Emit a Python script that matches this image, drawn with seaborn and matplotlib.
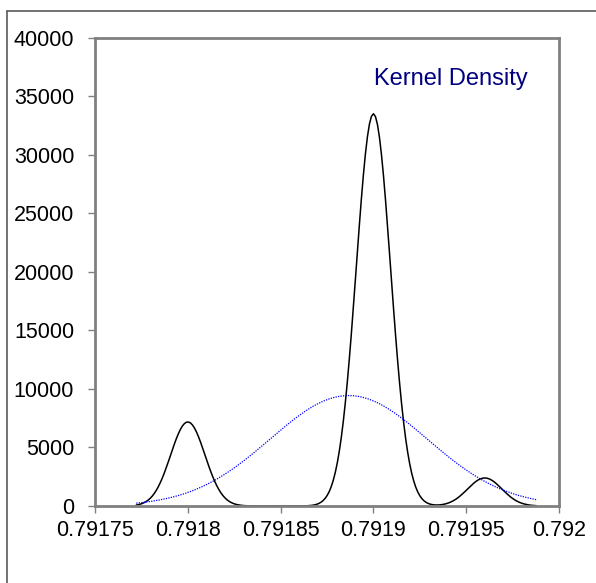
import matplotlib
matplotlib.use("Agg")
import matplotlib.pyplot as plt
from matplotlib.lines import Line2D
import seaborn as sns
import numpy as np
import pandas as pd

# observed values and how often each occurs
obs_values = [0.7918, 0.7919, 0.79196]
obs_counts = [3, 14, 1]

x_ticks = [0.79175, 0.7918, 0.79185, 0.7919, 0.79195, 0.792]
x_tick_labels = ["0.79175", "0.7918", "0.79185", "0.7919", "0.79195", "0.792"]
y_ticks = [0, 5000, 10000, 15000, 20000, 25000, 30000, 35000, 40000]
y_tick_labels = ["0", "5000", "10000", "15000", "20000", "25000", "30000", "35000", "40000"]

sns.set_style("white")
plt.rcParams['font.family'] = ['Liberation Sans', 'DejaVu Sans']

df = pd.DataFrame({'value': np.repeat(obs_values, obs_counts)})

fig = plt.figure(figsize=(5.96, 5.83), dpi=100)
ax = fig.add_axes([95 / 596, 1 - 506 / 583, (559 - 95) / 596, (506 - 37.7) / 583])

# kernel density (narrow bandwidth)
sns.kdeplot(data=df, x='value', bw_method=0.219, cut=3, color='black', linewidth=1.1, ax=ax)

# normal density fitted to the same observations, over the same support
xs = ax.lines[0].get_xdata()
mu = df['value'].mean()
sd = df['value'].std()
ys = np.exp(-0.5 * ((xs - mu) / sd) ** 2) / (sd * np.sqrt(2 * np.pi))
sns.lineplot(x=xs, y=ys, color='#0000ff', linewidth=0.9, linestyle=(0, (1, 1)), ax=ax)

ax.set_xlim(0.79175, 0.792)
ax.set_ylim(0, 40000)
ax.set_xticks(x_ticks)
ax.set_xticklabels(x_tick_labels)
ax.set_yticks(y_ticks)
ax.set_yticklabels(y_tick_labels)
ax.set_xlabel("")
ax.set_ylabel("")

for side in ['left', 'right', 'top', 'bottom']:
    ax.spines[side].set_visible(True)
    ax.spines[side].set_color('#808080')
    ax.spines[side].set_linewidth(2)

ax.tick_params(axis='both', direction='out', length=5, width=1, color='#808080',
               labelsize=15.5, labelcolor='black')
ax.tick_params(axis='x', pad=5, bottom=True)
ax.tick_params(axis='y', pad=10, left=True)

ax.text(374 / 596, 1 - 79 / 583, "Kernel Density", transform=fig.transFigure,
        color='#000080', fontsize=17, ha='left', va='center')

# chart border (Excel-style frame)
fig.add_artist(Line2D([7 / 596, 1.0], [1 - 11 / 583, 1 - 11 / 583], color='#5a5a5a', lw=1.2))
fig.add_artist(Line2D([7 / 596, 7 / 596], [0.0, 1 - 11 / 583], color='#5a5a5a', lw=1.2))

fig.savefig("out.png", dpi=100)
